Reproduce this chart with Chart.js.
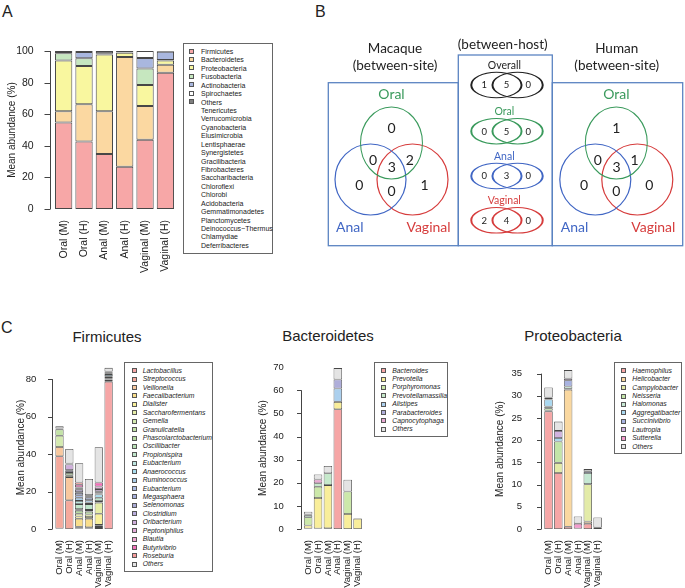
<!DOCTYPE html>
<html>
<head>
<meta charset="utf-8">
<script src="https://cdn.jsdelivr.net/npm/chart.js@4.4.0/dist/chart.umd.min.js"></script>
<style>
body{margin:0;background:#fff;width:685px;height:588px;position:relative;overflow:hidden;font-family:"Liberation Sans",Arial,sans-serif;color:#222;}
canvas{position:absolute;}
.tag{position:absolute;font-size:16px;line-height:16px;}
.ttl{position:absolute;font-size:15px;line-height:15px;transform:translateX(-50%);white-space:nowrap;}
.leg{position:absolute;border:1px solid #666;box-sizing:border-box;}
.leg i{position:absolute;width:5px;height:5px;border:0.8px solid #555;box-sizing:border-box;}
.leg span{position:absolute;line-height:1;transform:translateY(-50%);white-space:nowrap;color:#222;}
</style>
</head>
<body>
<div class="tag" style="left:2px;top:4px">A</div>
<div class="tag" style="left:315px;top:4px">B</div>
<div class="tag" style="left:1px;top:320px">C</div>
<div class="ttl" style="left:107px;top:329px">Firmicutes</div>
<div class="ttl" style="left:328px;top:328px">Bacteroidetes</div>
<div class="ttl" style="left:573px;top:328px">Proteobacteria</div>
<canvas id="phylum"></canvas>
<canvas id="venn"></canvas>
<canvas id="firm"></canvas>
<canvas id="bact"></canvas>
<canvas id="prot"></canvas>
<script>
const FONT = '"Liberation Sans", Arial, sans-serif';
Chart.defaults.font.family = FONT;

// sites, shared by every bar chart
const sites = ['Oral (M)','Oral (H)','Anal (M)','Anal (H)','Vaginal (M)','Vaginal (H)'];

// A: phylum level (mean %, per site)
const phyla = ['Firmicutes','Bacteroidetes','Proteobacteria','Fusobacteria','Actinobacteria','Spirochaetes','Others'];
const phylaColors = ['#f7a7a7','#fbd8a1','#f9f79f','#c6e7bf','#a9b7df','#ffffff','#7f7f7f'];
const phylaValues = [
  [54.8,42.8,34.8,26.7,43.8,86.3],
  [7.1,23.5,27.1,69.5,21.5,5.1],
  [32.1,24.2,35.9,2.8,13.3,2.6],
  [4.6,4.9,0.3,0.1,10.4,0.3],
  [0.8,4.0,0.5,0.3,6.6,5.3],
  [0.1,0,0,0,4.4,0],
  [0.5,0.6,1.4,0.6,0,0.4]
];
const minorPhyla = ['Tenericutes','Verrucomicrobia','Cyanobacteria','Elusimicrobia','Lentisphaerae','Synergistetes','Gracilibacteria','Fibrobacteres','Saccharibacteria','Chloroflexi','Chlorobi','Acidobacteria','Gemmatimonadetes','Planctomycetes','Deinococcus\u2212Thermus','Chlamydiae','Deferribacteres'];

// B: venn counts
const vennSets = ['Oral','Anal','Vaginal'];
// regions: Oral only, Anal only, Vaginal only, Oral+Anal, Oral+Vaginal, Anal+Vaginal, all three
const macaqueRegions = [0,0,1,0,2,0,3];
const humanRegions = [1,0,0,0,1,0,3];
const hostGroups = ['Overall','Oral','Anal','Vaginal'];
const macaqueOnly = [1,0,0,2];
const bothHosts = [5,5,3,4];
const humanOnly = [0,0,0,0];

// C: genus level inside each phylum
const firmGenera = ['Lactobacillus','Streptococcus','Veillonella','Faecalibacterium','Dialister','Saccharofermentans','Gemella','Granulicatella','Phascolarctobacterium','Oscillibacter','Propionispira','Eubacterium','Anaerococcus','Ruminococcus','Eubacterium','Megasphaera','Selenomonas','Clostridium','Oribacterium','Peptoniphilus','Blautia','Butyrivibrio','Roseburia','Others'];
const firmColors = ['#f6a6a6','#f5a99c','#f8c89e','#f9de8b','#f8f09b','#e6eda7','#d4eab0','#c3e3a7','#b7dba1','#b9e1b6','#c0e6cb','#bde6e0','#a9ddee','#a9cde8','#abbce4','#a6afdc','#aaaad5','#b9addc','#cfaedc','#e4acda','#f2a8d4','#f270b9','#f59b9b','#e4e4e4'];
const firmValues = [
  [0.3,0,0.3,0.3,0.6,78.6],
  [38.5,15.3,0.4,0.3,0.5,0],
  [5.0,12.4,0.5,0.3,0.6,0],
  [0,0,4.3,4.6,0.5,0],
  [0,0,1.2,0.9,5.9,0],
  [0,0,1.4,1.3,6.0,0],
  [6.0,1.0,0,0,0,0.4],
  [3.4,1.2,0,0,0,0],
  [0,0,1.7,1.6,0,0.8],
  [0,0,0.8,0.9,0.8,0.7],
  [0,0,2.7,3.1,1.8,0.7],
  [0,0,1.7,0.8,0,0],
  [0,0,0,0,1.7,1.0],
  [0,0,1.7,1.3,0,0],
  [0,0,1.3,1.3,0.6,0],
  [0,0,1.3,0,0.6,0.6],
  [0.3,0.5,0.4,0.4,0.5,0.6],
  [0,1.0,1.3,0.4,0,0.7],
  [0.3,3.0,0,0,1.2,0],
  [0,0.5,0.5,0,1.4,0],
  [0,0,0.7,0,0,0],
  [0,0,1.4,0.3,2.1,0],
  [0,0,1.2,0.3,0,0],
  [1.1,7.8,10.3,8.6,18.9,1.9]
];

const bactGenera = ['Bacteroides','Prevotella','Porphyromonas','Prevotellamassilia','Alistipes','Parabacteroides','Capnocytophaga','Others'];
const bactColors = ['#f6a6a6','#f9ee9a','#cce8aa','#c6e9cb','#acd0ee','#afaeda','#e8a9d3','#e4e4e4'];
const bactValues = [
  [0.2,0.2,0.3,51.8,0,0],
  [1.3,13.2,18.7,3.2,6.5,4.5],
  [3.6,4.9,0,0,9.7,0.2],
  [0.9,1.5,5.1,0,0,0],
  [0,0,0,5.8,0,0],
  [0,0,0,3.9,0,0],
  [0.3,1.6,0,0,0,0],
  [1.2,2.2,3.2,4.9,5.1,0]
];

const protGenera = ['Haemophilus','Helicobacter','Campylobacter','Neisseria','Halomonas','Aggregatibacter','Succinivibrio','Lautropia','Sutterella','Others'];
const protColors = ['#f6a6a6','#fad8a0','#e3eba8','#c3e5a8','#c6e8d3','#a9d8f0','#a8b3e0','#d1b3e0','#f39bcd','#e4e4e4'];
const protValues = [
  [26.5,12.6,0.5,0.1,1.2,0],
  [0,0,30.9,0,0.5,0],
  [0.2,2.3,0,0,8.4,0.3],
  [0.5,4.8,0.2,0,0,0],
  [0.4,0,0.5,0,2.5,0],
  [1.6,0.8,0,0,0,0],
  [0,0,1.4,0,0.4,0],
  [0.4,1.6,0.4,0,0,0],
  [0,0,0,1.1,0,0],
  [2.3,2.1,1.9,1.6,0.5,2.3]
];

// R-style y axis: line only over the tick range, a little left of the bars
const rAxis = {
  id: 'rAxis',
  afterDraw(chart, args, o) {
    const {ctx, chartArea} = chart;
    const y = chart.scales.y;
    const x0 = Math.round(chartArea.left - o.gap) + 0.5;
    ctx.save();
    ctx.strokeStyle = '#444';
    ctx.lineWidth = 1;
    ctx.beginPath();
    ctx.moveTo(x0, y.getPixelForValue(0));
    ctx.lineTo(x0, y.getPixelForValue(o.max));
    y.ticks.forEach(t => {
      if (t.value <= o.max) {
        const py = Math.round(y.getPixelForValue(t.value)) + 0.5;
        ctx.moveTo(x0, py);
        ctx.lineTo(x0 - o.tick, py);
      }
    });
    ctx.stroke();
    ctx.restore();
  }
};

function stacked(id, g, names, colors, values) {
  const cv = document.getElementById(id);
  cv.style.left = g.left + 'px';
  cv.style.top = g.top + 'px';
  cv.width = g.width;
  cv.height = g.height;
  return new Chart(cv, {
    type: 'bar',
    data: {
      labels: sites,
      datasets: names.map((n, i) => ({
        label: n, data: values[i], backgroundColor: colors[i],
        borderColor: '#474747', borderWidth: g.bw, borderSkipped: false,
        barPercentage: g.bar, categoryPercentage: 1
      }))
    },
    options: {
      responsive: false, animation: false, events: [],
      layout: {padding: {left: 0, right: 0, top: g.padTop, bottom: 0}},
      plugins: {legend: {display: false}, tooltip: {enabled: false},
        rAxis: {gap: g.gap, tick: g.tickLen, max: g.axisMax}},
      scales: {
        x: {stacked: true, grid: {display: false}, border: {display: false},
          ticks: {maxRotation: 90, minRotation: 90, autoSkip: false, padding: 3, color: '#222', font: {size: g.font}},
          afterFit: s => { s.height = g.xh; }},
        y: {stacked: true, min: 0, max: g.max, grid: {display: false}, border: {display: false},
          ticks: {stepSize: g.step, includeBounds: false, padding: g.tickPad, color: '#222', font: {size: g.font}},
          title: {display: true, text: 'Mean abundance (%)', color: '#222', font: {size: 10}, padding: {top: g.titlePad, bottom: 0}},
          afterFit: s => { s.width = g.yw; }}
      }
    },
    plugins: [rAxis]
  });
}

function legend(b, names, colors, italic, fs, step) {
  const d = document.createElement('div');
  d.className = 'leg';
  Object.assign(d.style, {left: b.x + 'px', top: b.y + 'px', width: b.w + 'px', height: b.h + 'px'});
  names.forEach((n, i) => {
    const yc = b.first + i * step - b.y - 1;
    if (colors[i]) {
      const s = document.createElement('i');
      Object.assign(s.style, {left: (b.sw - b.x - 1) + 'px', top: (yc - 2.5) + 'px', background: colors[i]});
      d.appendChild(s);
    }
    const t = document.createElement('span');
    t.textContent = n;
    Object.assign(t.style, {left: (b.tx - b.x - 1) + 'px', top: yc + 'px', fontSize: fs + 'px', fontStyle: italic ? 'italic' : 'normal'});
    d.appendChild(t);
  });
  document.body.appendChild(d);
}

// ---- A ----
stacked('phylum', {left: 0, top: 33, width: 181, height: 240, padTop: 10, xh: 64, yw: 53.5,
  max: 100, axisMax: 100, step: 20, gap: 3.5, tickLen: 6, tickPad: 11.8, titlePad: 6, font: 10.5, bar: 0.85, bw: 1},
  phyla, phylaColors, phylaValues);
legend({x: 183, y: 42.5, w: 90, h: 211, first: 51, sw: 189.3, tx: 201},
  phyla.concat(minorPhyla), phylaColors, false, 7, 8.43);

// ---- C ----
stacked('firm', {left: 0, top: 350, width: 123, height: 238, padTop: 10.4, xh: 59, yw: 54.6,
  max: 87, axisMax: 80, step: 20, gap: 2.6, tickLen: 4.5, tickPad: 10.3, titlePad: 15.3, font: 9.5, bar: 0.84, bw: 0.8},
  firmGenera, firmColors, firmValues);
legend({x: 124.3, y: 361.7, w: 89, h: 210, first: 370.7, sw: 131.7, tx: 142.7}, firmGenera, firmColors, true, 6.8, 8.42);

stacked('bact', {left: 230, top: 350, width: 142.4, height: 238, padTop: 10.65, xh: 59, yw: 73.2,
  max: 70, axisMax: 60, step: 10, gap: 2.5, tickLen: 4.5, tickPad: 11.5, titlePad: 27.3, font: 9.5, bar: 0.86, bw: 0.8},
  bactGenera, bactColors, bactValues);
legend({x: 374, y: 361.7, w: 74.3, h: 75.6, first: 370.7, sw: 380.7, tx: 392.3}, bactGenera, bactColors, true, 6.8, 8.37);

stacked('prot', {left: 450, top: 350, width: 162.6, height: 238, padTop: 10.6, xh: 59, yw: 93.6,
  max: 36, axisMax: 35, step: 5, gap: 2.6, tickLen: 4.5, tickPad: 13.5, titlePad: 44.5, font: 9.5, bar: 0.86, bw: 0.8},
  protGenera, protColors, protValues);
legend({x: 614.3, y: 361.7, w: 68, h: 92.6, first: 370.7, sw: 620.7, tx: 632.3}, protGenera, protColors, true, 6.8, 8.44);

// ---- B: venn diagrams drawn as bubbles (ellipses by scaling each bubble) ----
const setColors = ['#3a9a5c', '#4066c4', '#d63c3c'];
const pairColors = ['#222222'].concat(setColors);
const venn3 = {
  circles: [{dx: 0, dy: 0, r: 36, sx: 0.86, sy: 1}, {dx: -21, dy: 36.5, r: 35.5, sx: 1, sy: 1}, {dx: 21, dy: 36.5, r: 35.5, sx: 1, sy: 1}],
  regionText: [[0, -10.3], [-32.2, 47.3], [33, 47], [-18.4, 22], [18.3, 22], [0, 53], [0.3, 29]],
  setText: [[0, -43.7], [-41.7, 88.7], [37, 88.7]]
};
const venn3Origins = [[391.5, 143], [616.3, 143]];
const pair = {cx: 507, dx: 10.6, r: 12.7, sx: 1.98, rows: [85, 131.2, 176, 220.3], numX: [-22.7, -0.5, 21.3], labelX: 504.3};

const vennData = [];
venn3Origins.forEach(o => {
  venn3.circles.forEach((c, i) => vennData.push({
    data: [{x: o[0] + c.dx, y: o[1] + c.dy, r: c.r}], borderColor: setColors[i], sx: c.sx, sy: c.sy, borderWidth: 1.2
  }));
});
hostGroups.forEach((h, k) => {
  [-1, 1].forEach(s => vennData.push({
    data: [{x: pair.cx + s * pair.dx, y: pair.rows[k], r: pair.r}], borderColor: pairColors[k], sx: pair.sx, sy: 1, borderWidth: 1
  }));
});
vennData.forEach(d => { d.backgroundColor = 'rgba(0,0,0,0)'; d.clip = false; });

const ellipse = {
  id: 'ellipse',
  beforeDatasetDraw(chart, args) {
    const ds = chart.data.datasets[args.index];
    const el = args.meta.data[0];
    const ctx = chart.ctx;
    ctx.save();
    ctx.translate(el.x, el.y);
    ctx.scale(ds.sx, ds.sy);
    ctx.translate(-el.x, -el.y);
  },
  afterDatasetDraw(chart) { chart.ctx.restore(); }
};

const vennText = {
  id: 'vennText',
  afterDraw(chart) {
    const {ctx} = chart;
    const X = v => chart.scales.x.getPixelForValue(v);
    const Y = v => chart.scales.y.getPixelForValue(v);
    const txt = (s, x, y, size, color) => {
      ctx.font = size + 'px Lato';
      ctx.fillStyle = color;
      ctx.textAlign = 'center';
      ctx.textBaseline = 'alphabetic';
      ctx.fillText(String(s), X(x), Y(y));
    };
    ctx.save();
    // frames
    ctx.strokeStyle = '#5b84c2';
    ctx.lineWidth = 1.3;
    [[328.3, 82.7, 458.3, 245.7], [458.3, 55, 552.3, 245.7], [552.3, 82.7, 682.7, 245.7]].forEach(b => {
      ctx.strokeRect(X(b[0]), Y(b[1]), X(b[2]) - X(b[0]), Y(b[3]) - Y(b[1]));
    });
    // headings
    txt('Macaque', 395, 52.7, 13.5, '#222');
    txt('(between-site)', 395, 70, 13.5, '#222');
    txt('(between-host)', 502.7, 49, 13.5, '#222');
    txt('Human', 616.7, 52.7, 13.5, '#222');
    txt('(between-site)', 616.7, 70, 13.5, '#222');
    // three-set diagrams
    [macaqueRegions, humanRegions].forEach((vals, k) => {
      const o = venn3Origins[k];
      vals.forEach((v, i) => txt(v, o[0] + venn3.regionText[i][0], o[1] + venn3.regionText[i][1], 14, '#222'));
      vennSets.forEach((s, i) => txt(s, o[0] + venn3.setText[i][0], o[1] + venn3.setText[i][1], 14, setColors[i]));
    });
    // between-host pairs
    hostGroups.forEach((h, k) => {
      const y = pair.rows[k];
      txt(h, pair.labelX, y - 16, 10.5, pairColors[k]);
      [macaqueOnly[k], bothHosts[k], humanOnly[k]].forEach((v, j) => txt(v, pair.cx + pair.numX[j], y + 3.3, 9.5, '#222'));
    });
    ctx.restore();
  }
};

const vc = document.getElementById('venn');
vc.style.left = '315px';
vc.style.top = '0px';
vc.width = 370;
vc.height = 260;
new Chart(vc, {
  type: 'bubble',
  data: {datasets: vennData},
  options: {
    responsive: false, animation: false, events: [],
    layout: {padding: 0, autoPadding: false},
    plugins: {legend: {display: false}, tooltip: {enabled: false}},
    scales: {
      x: {type: 'linear', min: 315, max: 685, display: false},
      y: {type: 'linear', min: 0, max: 260, reverse: true, display: false}
    }
  },
  plugins: [ellipse, vennText]
});
</script>
</body>
</html>
